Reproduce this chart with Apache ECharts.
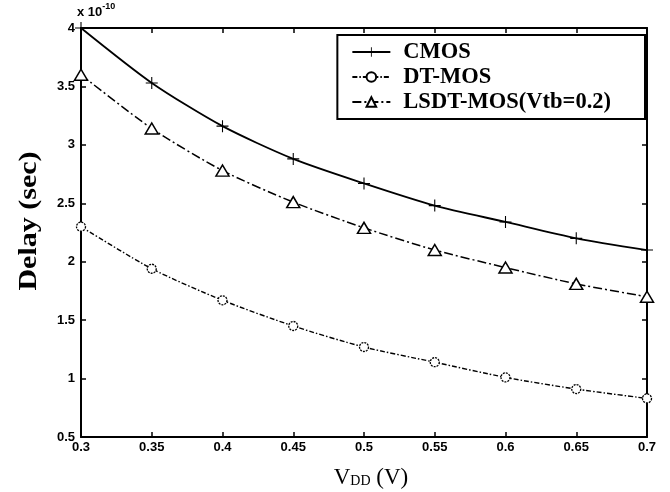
<!DOCTYPE html>
<html>
<head>
<meta charset="utf-8">
<script src="https://cdn.jsdelivr.net/npm/echarts@6/dist/echarts.min.js"></script>
<style>
html,body{margin:0;padding:0;background:#fff;}
#chart{width:670px;height:492px;}
</style>
</head>
<body>
<div id="chart"></div>
<script>
var vdd = [0.3, 0.35, 0.4, 0.45, 0.5, 0.55, 0.6, 0.65, 0.7];
var cmos = [4.00, 3.53, 3.16, 2.88, 2.67, 2.48, 2.34, 2.20, 2.10];
var dtmos = [2.30, 1.94, 1.67, 1.45, 1.27, 1.14, 1.01, 0.91, 0.83];
var lsdt = [3.60, 3.14, 2.78, 2.51, 2.29, 2.10, 1.95, 1.81, 1.70];
var seriesNames = ['CMOS', 'DT-MOS', 'LSDT-MOS(Vtb=0.2)'];
var xTicks = [0.3, 0.35, 0.4, 0.45, 0.5, 0.55, 0.6, 0.65, 0.7];
var yTicks = [0.5, 1, 1.5, 2, 2.5, 3, 3.5, 4];

function pairs(ys) { return vdd.map(function (x, i) { return [x, ys[i]]; }); }
function fmt(v) { return String(parseFloat(Number(v).toFixed(2))); }

var chart = echarts.init(document.getElementById('chart'));
var axisLine = { show: true, onZero: false, lineStyle: { color: '#000', width: 2 } };
var tickFont = { color: '#000', fontWeight: 'bold', fontSize: 13, fontFamily: 'Liberation Sans, Arial, sans-serif' };
var plusPath = 'path://M-0.9,-10 L0.9,-10 L0.9,10 L-0.9,10 Z M-10,-0.9 L10,-0.9 L10,0.9 L-10,0.9 Z';

var option = {
  backgroundColor: '#fff',
  animation: false,
  grid: { left: 81, right: 23, top: 28, bottom: 55, containLabel: false },
  legend: {
    right: 25, top: 35,
    orient: 'vertical',
    backgroundColor: '#fff',
    borderColor: '#000', borderWidth: 2, borderRadius: 0,
    padding: [5, 34, 5, 14],
    itemGap: 1,
    itemWidth: 38, itemHeight: 12,
    textStyle: { fontFamily: 'Liberation Serif, Times New Roman, serif', fontWeight: 'bold', fontSize: 22.5, lineHeight: 24, color: '#000', padding: [0, 0, 0, 8] },
    data: seriesNames
  },
  xAxis: [{
    type: 'value', min: 0.3, max: 0.7, interval: 0.05, position: 'bottom',
    axisLine: axisLine,
    axisTick: { show: true, inside: true, length: 5, lineStyle: { color: '#000', width: 1.5 } },
    axisLabel: Object.assign({ formatter: fmt, margin: 4 }, tickFont),
    splitLine: { show: false }
  }, {
    type: 'value', min: 0.3, max: 0.7, interval: 0.05, position: 'top',
    axisLine: axisLine,
    axisTick: { show: true, inside: true, length: 5, lineStyle: { color: '#000', width: 1.5 } },
    axisLabel: { show: false }, splitLine: { show: false }
  }],
  yAxis: [{
    type: 'value', min: 0.5, max: 4, interval: 0.5, position: 'left',
    axisLine: axisLine,
    axisTick: { show: true, inside: true, length: 5, lineStyle: { color: '#000', width: 1.5 } },
    axisLabel: Object.assign({ formatter: fmt, margin: 6 }, tickFont),
    splitLine: { show: false }
  }, {
    type: 'value', min: 0.5, max: 4, interval: 0.5, position: 'right',
    axisLine: axisLine,
    axisTick: { show: true, inside: true, length: 5, lineStyle: { color: '#000', width: 1.5 } },
    axisLabel: { show: false }, splitLine: { show: false }
  }],
  series: [{
    name: seriesNames[0], type: 'line', data: pairs(cmos), smooth: 0.25,
    symbol: plusPath, symbolSize: 12, showAllSymbol: true,
    lineStyle: { color: '#000', width: 1.8, type: 'solid' },
    itemStyle: { color: '#000' }
  }, {
    name: seriesNames[1], type: 'line', data: pairs(dtmos), smooth: 0.25,
    symbol: 'circle', symbolSize: 9, showAllSymbol: true,
    lineStyle: { color: '#000', width: 1.4, type: [5, 2, 1.5, 2] },
    itemStyle: { color: '#fff', borderColor: '#000', borderWidth: 1.3, borderType: [2, 1] }
  }, {
    name: seriesNames[2], type: 'line', data: pairs(lsdt), smooth: 0.25,
    symbol: 'triangle', symbolSize: [13, 11], showAllSymbol: true,
    lineStyle: { color: '#000', width: 1.5, type: [9, 3, 2, 3] },
    itemStyle: { color: '#fff', borderColor: '#000', borderWidth: 1.5 }
  }],
  graphic: [{
    type: 'text', left: 77, top: 2,
    style: {
      text: '{b|x 10}{s|-10}',
      rich: {
        b: { fontFamily: 'Liberation Sans, sans-serif', fontWeight: 'bold', fontSize: 13, fill: '#000', verticalAlign: 'bottom' },
        s: { fontFamily: 'Liberation Sans, sans-serif', fontWeight: 'bold', fontSize: 9, fill: '#000', padding: [0, 0, 8, 0] }
      }
    }
  }, {
    type: 'text', x: 30, y: 221, rotation: Math.PI / 2, scaleX: 1.2,
    style: {
      text: 'Delay (sec)', fill: '#000',
      font: 'bold 25px "Liberation Serif", "Times New Roman", serif',
      align: 'center', verticalAlign: 'middle'
    }
  }, {
    type: 'text', x: 371, y: 478,
    style: {
      text: '{v|V}{d|DD}{v| (V)}', align: 'center', verticalAlign: 'middle',
      rich: {
        v: { fontFamily: 'Liberation Serif, Times New Roman, serif', fontSize: 23, fill: '#000' },
        d: { fontFamily: 'Liberation Serif, Times New Roman, serif', fontSize: 14, fill: '#000', padding: [6, 0, 0, 0] }
      }
    }
  }]
};
chart.setOption(option);
</script>
</body>
</html>
